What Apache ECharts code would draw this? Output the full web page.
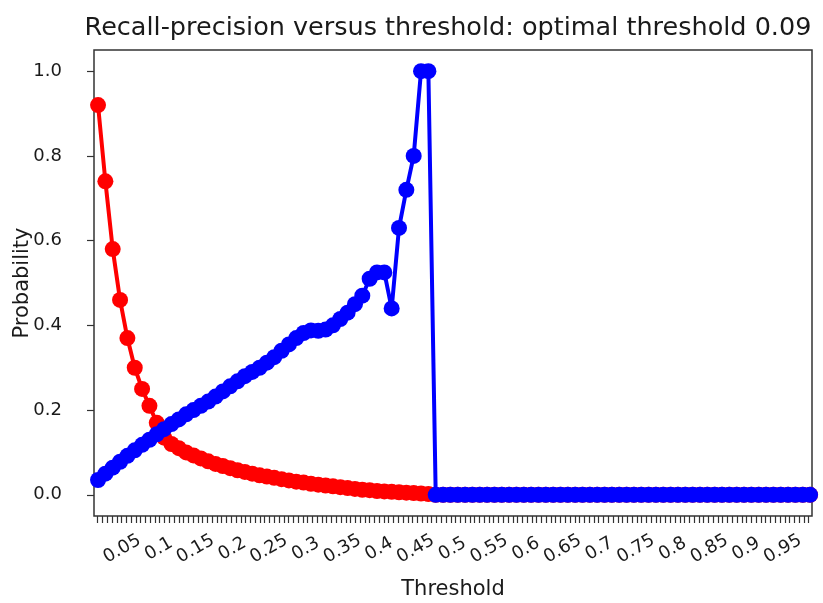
<!DOCTYPE html>
<html>
<head>
<meta charset="utf-8">
<script src="https://cdn.jsdelivr.net/npm/echarts@6/dist/echarts.min.js"></script>
<style>
  html, body { margin: 0; padding: 0; background: #fff; }
  #chart { width: 823px; height: 603px; }
</style>
</head>
<body>
<div id="chart"></div>
<script>
const thresholds = [
  0.01, 0.02, 0.03, 0.04, 0.05, 0.06, 0.07, 0.08, 0.09, 0.10,
  0.11, 0.12, 0.13, 0.14, 0.15, 0.16, 0.17, 0.18, 0.19, 0.20,
  0.21, 0.22, 0.23, 0.24, 0.25, 0.26, 0.27, 0.28, 0.29, 0.30,
  0.31, 0.32, 0.33, 0.34, 0.35, 0.36, 0.37, 0.38, 0.39, 0.40,
  0.41, 0.42, 0.43, 0.44, 0.45, 0.46, 0.47, 0.48, 0.49, 0.50,
  0.51, 0.52, 0.53, 0.54, 0.55, 0.56, 0.57, 0.58, 0.59, 0.60,
  0.61, 0.62, 0.63, 0.64, 0.65, 0.66, 0.67, 0.68, 0.69, 0.70,
  0.71, 0.72, 0.73, 0.74, 0.75, 0.76, 0.77, 0.78, 0.79, 0.80,
  0.81, 0.82, 0.83, 0.84, 0.85, 0.86, 0.87, 0.88, 0.89, 0.90,
  0.91, 0.92, 0.93, 0.94, 0.95, 0.96, 0.97, 0.98, 0.99
]

// red curve
const recall = [
  0.92, 0.74, 0.58, 0.46, 0.37, 0.30, 0.25, 0.21, 0.17, 0.135,
  0.12, 0.11, 0.10, 0.093, 0.086, 0.079, 0.073, 0.068, 0.063, 0.058,
  0.054, 0.050, 0.046, 0.043, 0.040, 0.037, 0.034, 0.031, 0.029, 0.026,
  0.024, 0.022, 0.020, 0.018, 0.016, 0.014, 0.012, 0.011, 0.009, 0.008,
  0.007, 0.006, 0.005, 0.004, 0.003, 0.002, 0, 0, 0, 0,
  0, 0, 0, 0, 0, 0, 0, 0, 0, 0,
  0, 0, 0, 0, 0, 0, 0, 0, 0, 0,
  0, 0, 0, 0, 0, 0, 0, 0, 0, 0,
  0, 0, 0, 0, 0, 0, 0, 0, 0, 0,
  0, 0, 0, 0, 0, 0, 0, 0, 0
]

// blue curve
const precision = [
  0.035, 0.05, 0.064, 0.078, 0.092, 0.105, 0.118, 0.13, 0.143, 0.155,
  0.167, 0.178, 0.19, 0.20, 0.21, 0.22, 0.232, 0.244, 0.256, 0.268,
  0.28, 0.29, 0.30, 0.312, 0.325, 0.34, 0.355, 0.37, 0.382, 0.388,
  0.387, 0.39, 0.40, 0.415, 0.43, 0.45, 0.47, 0.51, 0.525, 0.525,
  0.44, 0.63, 0.72, 0.80, 1.0, 1.0, 0, 0, 0, 0,
  0, 0, 0, 0, 0, 0, 0, 0, 0, 0,
  0, 0, 0, 0, 0, 0, 0, 0, 0, 0,
  0, 0, 0, 0, 0, 0, 0, 0, 0, 0,
  0, 0, 0, 0, 0, 0, 0, 0, 0, 0,
  0, 0, 0, 0, 0, 0, 0, 0, 0
]

const xLabelValues = [0.05, 0.1, 0.15, 0.2, 0.25, 0.3, 0.35, 0.4, 0.45, 0.5,
  0.55, 0.6, 0.65, 0.7, 0.75, 0.8, 0.85, 0.9, 0.95]
const yTickValues = [0, 0.2, 0.4, 0.6, 0.8, 1.0]

// dense small ticks along the x axis
const xTickValues = []
for (let i = 0; i < 150; i++) xTickValues.push(+(0.0095 + i * 0.0065).toFixed(5))

const font = 'DejaVu Sans'
const ink = '#1a1a1a'

const chart = echarts.init(document.getElementById('chart'))

chart.setOption({
  animation: false,
  backgroundColor: '#fff',
  title: {
    text: 'Recall-precision versus threshold: optimal threshold 0.09',
    left: 443,
    top: 10,
    textAlign: 'center',
    textStyle: { fontFamily: font, fontSize: 25.5, fontWeight: 'normal', color: ink }
  },
  grid: {
    left: 94, top: 50, width: 718, height: 466,
    outerBoundsMode: 'none',
    containLabel: false,
    show: true, borderColor: '#333', borderWidth: 1.5, backgroundColor: 'transparent'
  },
  xAxis: {
    type: 'value',
    min: 0.0045,
    max: 0.9826,
    name: 'Threshold',
    nameLocation: 'middle',
    nameGap: 63,
    nameMoveOverlap: false,
    nameTextStyle: { fontFamily: font, fontSize: 21, color: ink },
    axisLine: { show: false, onZero: false },
    splitLine: { show: false },
    axisTick: {
      show: true, length: 7, inside: false,
      customValues: xTickValues,
      lineStyle: { color: '#333', width: 1.2 }
    },
    axisLabel: {
      customValues: xLabelValues,
      rotate: 30,
      align: 'center',
      verticalAlign: 'middle',
      margin: 30,
      padding: [0, 12, 0, 0],
      fontFamily: font, fontSize: 18, color: ink,
      formatter: v => String(+v.toFixed(2))
    }
  },
  yAxis: {
    type: 'value',
    min: -0.05,
    max: 1.05,
    name: 'Probability',
    nameLocation: 'middle',
    nameGap: 61,
    nameMoveOverlap: false,
    nameTextStyle: { fontFamily: font, fontSize: 21, color: ink },
    axisLine: { show: false, onZero: false },
    splitLine: { show: false },
    axisTick: {
      show: true, length: 7,
      customValues: yTickValues,
      lineStyle: { color: '#333', width: 1.2 }
    },
    axisLabel: {
      customValues: yTickValues,
      margin: 32,
      fontFamily: font, fontSize: 18, color: ink,
      formatter: v => v.toFixed(1)
    }
  },
  series: [
    {
      name: 'recall',
      type: 'line',
      data: thresholds.map((t, i) => [t, recall[i]]),
      symbol: 'circle',
      symbolSize: 16,
      showAllSymbol: true,
      clip: true,
      itemStyle: { color: '#ff0000' },
      lineStyle: { color: '#ff0000', width: 4 },
      z: 2
    },
    {
      name: 'precision',
      type: 'line',
      data: thresholds.map((t, i) => [t, precision[i]]),
      symbol: 'circle',
      symbolSize: 16,
      showAllSymbol: true,
      clip: true,
      itemStyle: { color: '#0000ff' },
      lineStyle: { color: '#0000ff', width: 4 },
      z: 3
    }
  ]
})
</script>
</body>
</html>
